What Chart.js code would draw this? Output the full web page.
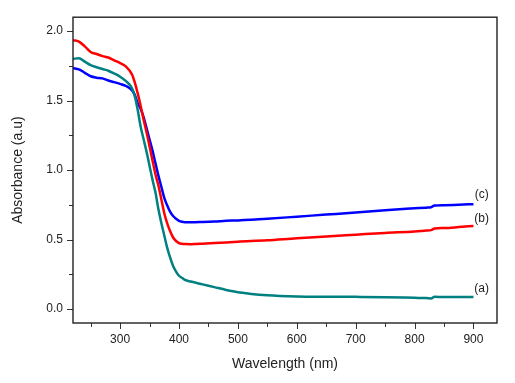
<!DOCTYPE html>
<html>
<head>
<meta charset="utf-8">
<script src="https://cdn.jsdelivr.net/npm/chart.js@4.4.0/dist/chart.umd.min.js"></script>
<style>
  html, body { margin: 0; padding: 0; background: #fff; }
  canvas { display: block; }
</style>
</head>
<body>
<canvas id="uvChart" width="515" height="383"></canvas>
<script>
const wavelength = [220, 230, 240, 250, 260, 270, 280, 290, 300, 310, 320, 325, 330, 335, 340, 345, 350, 355, 360, 365, 370, 375, 380, 385, 390, 395, 400, 405, 410, 420, 440, 460, 480, 500, 550, 600, 650, 700, 750, 800, 820, 828, 834, 850, 875, 900];

const sampleA = [1.80, 1.805, 1.78, 1.755, 1.74, 1.727, 1.715, 1.695, 1.672, 1.64, 1.59, 1.53, 1.43, 1.31, 1.22, 1.13, 1.03, 0.93, 0.84, 0.72, 0.62, 0.53, 0.44, 0.37, 0.31, 0.27, 0.24, 0.225, 0.21, 0.198, 0.178, 0.158, 0.138, 0.122, 0.10, 0.091, 0.089, 0.088, 0.086, 0.081, 0.079, 0.077, 0.088, 0.087, 0.087, 0.087];
const sampleB = [1.934, 1.925, 1.89, 1.85, 1.835, 1.82, 1.81, 1.79, 1.77, 1.745, 1.69, 1.63, 1.55, 1.46, 1.36, 1.27, 1.17, 1.07, 0.97, 0.89, 0.79, 0.69, 0.617, 0.56, 0.515, 0.49, 0.475, 0.47, 0.468, 0.467, 0.47, 0.475, 0.48, 0.485, 0.495, 0.51, 0.522, 0.535, 0.548, 0.558, 0.565, 0.568, 0.58, 0.583, 0.59, 0.598];
const sampleC = [1.734, 1.725, 1.70, 1.675, 1.665, 1.66, 1.645, 1.633, 1.62, 1.605, 1.575, 1.54, 1.48, 1.44, 1.38, 1.30, 1.22, 1.14, 1.05, 0.96, 0.88, 0.80, 0.745, 0.70, 0.67, 0.65, 0.635, 0.628, 0.625, 0.625, 0.627, 0.63, 0.635, 0.638, 0.65, 0.665, 0.68, 0.695, 0.712, 0.725, 0.73, 0.733, 0.745, 0.748, 0.751, 0.755];

const xTickValues = [250, 300, 350, 400, 450, 500, 550, 600, 650, 700, 750, 800, 850, 900];
const yTickValues = [0, 0.25, 0.5, 0.75, 1.0, 1.25, 1.5, 1.75, 2.0];

const seriesTags = ["(a)", "(b)", "(c)"];
const tagWavelength = 914;
const tagAbsorbance = [0.146, 0.65, 0.82];

const toPoints = (ys) => wavelength.map((x, i) => ({ x: x, y: ys[i] }));

Chart.defaults.font.family = "Arial, 'Liberation Sans', sans-serif";
Chart.defaults.color = "#222";

const frameAndTicks = {
  id: "frameAndTicks",
  afterDraw(chart) {
    const { ctx, chartArea: a, scales } = chart;
    ctx.save();
    ctx.strokeStyle = "#333";
    ctx.lineWidth = 1;
    scales.x.ticks.forEach((t) => {
      const px = Math.round(scales.x.getPixelForValue(t.value)) + 0.5;
      const len = t.value % 100 === 0 ? 6 : 4;
      ctx.beginPath();
      ctx.moveTo(px, a.bottom);
      ctx.lineTo(px, a.bottom + len);
      ctx.stroke();
    });
    scales.y.ticks.forEach((t) => {
      const py = Math.round(scales.y.getPixelForValue(t.value)) + 0.5;
      const len = Math.abs(t.value % 0.5) < 1e-9 ? 6 : 4;
      ctx.beginPath();
      ctx.moveTo(a.left, py);
      ctx.lineTo(a.left - len, py);
      ctx.stroke();
    });
    ctx.lineWidth = 1.4;
    ctx.strokeStyle = "#222";
    ctx.strokeRect(a.left, a.top, a.right - a.left, a.bottom - a.top);
    ctx.restore();
  },
  afterDatasetsDraw(chart) {
    const { ctx, scales } = chart;
    ctx.save();
    ctx.font = "12px Arial, 'Liberation Sans', sans-serif";
    ctx.fillStyle = "#222";
    ctx.textAlign = "center";
    ctx.textBaseline = "middle";
    seriesTags.forEach((tag, i) => {
      ctx.fillText(tag, scales.x.getPixelForValue(tagWavelength), scales.y.getPixelForValue(tagAbsorbance[i]));
    });
    ctx.restore();
  },
};

new Chart(document.getElementById("uvChart"), {
  type: "line",
  data: {
    datasets: [
      { label: "(a)", data: toPoints(sampleA), borderColor: "#008080" },
      { label: "(b)", data: toPoints(sampleB), borderColor: "#ff0000" },
      { label: "(c)", data: toPoints(sampleC), borderColor: "#0000ff" },
    ],
  },
  options: {
    responsive: false,
    animation: false,
    devicePixelRatio: 1,
    elements: {
      line: { borderWidth: 2.5, cubicInterpolationMode: "monotone", fill: false },
      point: { radius: 0 },
    },
    layout: {
      padding: { left: 0, top: 12, right: 18, bottom: 0 },
    },
    plugins: {
      legend: { display: false },
      tooltip: { enabled: false },
    },
    scales: {
      x: {
        type: "linear",
        min: 220,
        max: 940,
        afterBuildTicks: (scale) => {
          scale.ticks = xTickValues.map((v) => ({ value: v }));
        },
        afterFit: (scale) => {
          scale.height = 60;
        },
        grid: { display: false, drawTicks: false },
        border: { display: false },
        ticks: {
          padding: 9,
          autoSkip: false,
          maxRotation: 0,
          font: { size: 12 },
          callback: (v) => (v % 100 === 0 ? String(v) : ""),
        },
        title: {
          display: true,
          text: "Wavelength (nm)",
          font: { size: 14 },
          padding: { top: 0, bottom: 10 },
        },
      },
      y: {
        type: "linear",
        min: -0.1,
        max: 2.1,
        afterBuildTicks: (scale) => {
          scale.ticks = yTickValues.map((v) => ({ value: v }));
        },
        afterFit: (scale) => {
          scale.width = 73;
        },
        grid: { display: false, drawTicks: false },
        border: { display: false },
        ticks: {
          padding: 10,
          autoSkip: false,
          font: { size: 12 },
          callback: (v) => (Math.abs(v % 0.5) < 1e-9 ? v.toFixed(1) : ""),
        },
        title: {
          display: true,
          text: "Absorbance (a.u)",
          font: { size: 14 },
          padding: { top: 10, bottom: 0 },
        },
      },
    },
  },
  plugins: [frameAndTicks],
});
</script>
</body>
</html>
